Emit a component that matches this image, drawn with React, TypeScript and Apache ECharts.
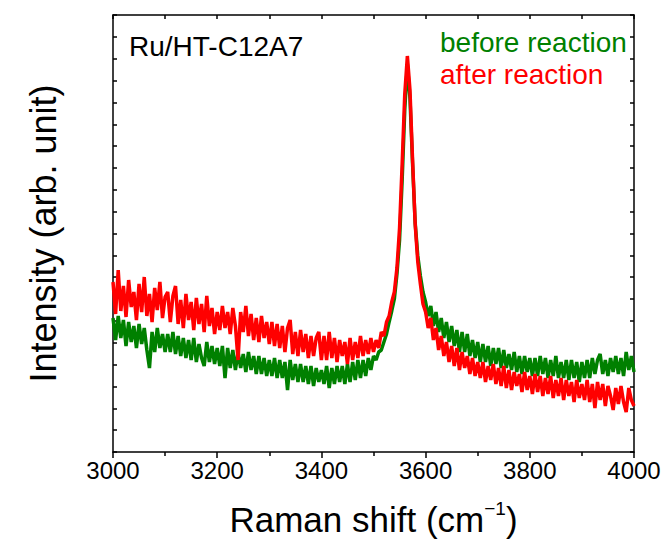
import React, { useEffect, useRef } from "react";
import * as echarts from "echarts";

// Raman shift grid (cm^-1): first point and spacing of the sampled spectra
const X_START = 3000;
const X_STEP = 5;

// Intensity (arb. unit), one value every 5 cm^-1 from 3000 to 4000
const beforeReaction = [
  134, 112, 136, 114, 132, 106, 130, 110, 126, 104, 128, 108, 124, 102, 84, 120, 100, 124, 104, 118, 100,
  118, 100, 120, 98, 116, 96, 114, 94, 112, 92, 114, 90, 108, 94, 86, 110, 90, 106, 88, 104,
  86, 106, 74, 104, 84, 102, 82, 100, 84, 98, 80, 100, 82, 96, 78, 96, 78, 94, 76, 92,
  76, 94, 74, 92, 74, 90, 62, 92, 72, 88, 70, 88, 70, 86, 68, 86, 66, 84, 70, 82,
  68, 86, 64, 84, 68, 86, 70, 86, 68, 88, 70, 90, 72, 92, 74, 92, 76, 94, 82, 96,
  92, 100, 102, 110, 118, 130, 141, 153, 178, 212, 272, 342, 388, 354, 288, 229, 196, 176, 160, 150,
  136, 146, 126, 140, 120, 134, 114, 130, 110, 126, 106, 122, 100, 120, 100, 118, 96, 112, 94, 110,
  90, 108, 90, 106, 86, 104, 88, 104, 84, 102, 84, 98, 82, 100, 80, 96, 78, 96, 80, 94,
  76, 94, 76, 96, 78, 94, 74, 92, 76, 96, 74, 90, 74, 92, 72, 92, 74, 90, 70, 90,
  74, 92, 74, 94, 78, 92, 98, 78, 92, 76, 94, 80, 96, 78, 94, 76, 100, 82, 96, 80,
];

const afterReaction = [
  170, 138, 182, 141, 166, 135, 172, 145, 160, 132, 168, 140, 175, 136, 158, 130, 164, 142, 170, 134, 155,
  160, 130, 156, 166, 128, 152, 124, 158, 132, 150, 122, 154, 128, 148, 120, 156, 126, 144, 118, 140,
  122, 146, 124, 140, 118, 144, 126, 92, 140, 120, 146, 116, 138, 112, 134, 110, 136, 114, 130, 108,
  130, 106, 128, 104, 126, 100, 124, 132, 98, 120, 96, 122, 100, 118, 94, 116, 96, 114, 120, 92,
  116, 92, 120, 94, 114, 90, 112, 96, 110, 88, 114, 92, 110, 94, 116, 96, 112, 98, 114, 100,
  112, 104, 120, 116, 130, 136, 150, 160, 184, 224, 288, 358, 396, 362, 292, 228, 190, 168, 148, 140,
  124, 134, 112, 124, 102, 116, 96, 110, 90, 106, 86, 104, 82, 100, 84, 96, 78, 94, 76, 90,
  74, 90, 70, 86, 72, 88, 68, 84, 66, 86, 64, 82, 62, 80, 66, 78, 60, 80, 62, 76,
  58, 78, 60, 76, 56, 74, 58, 76, 54, 72, 56, 74, 52, 72, 56, 70, 50, 72, 54, 68,
  52, 72, 50, 68, 44, 70, 52, 68, 46, 66, 56, 42, 64, 48, 66, 50, 40, 64, 52, 46,
];

const seriesNames = ["before reaction", "after reaction"];
const seriesColors = ["#008000", "#ff0000"];
const sampleLabel = "Ru/HT-C12A7";

// axis extents
const X_MIN = 3000;
const X_MAX = 4000;
const X_INTERVAL = 200;
const Y_MIN = 0;
const Y_MAX = 437;
const Y_INTERVAL = 21.85;

const FONT = "'Liberation Sans', Arial, Helvetica, sans-serif";

export default function App() {
  const ref = useRef<HTMLDivElement>(null);

  useEffect(() => {
    if (!ref.current) return;
    const chart = echarts.init(ref.current, null, { renderer: "svg" });
    const toPairs = (arr: number[]) => arr.map((v, i) => [X_START + X_STEP * i, v]);

    const axisLineStyle = { color: "#000", width: 1.5 };

    chart.setOption({
      animation: false,
      backgroundColor: "#fff",
      grid: { left: 113, right: 36, top: 15, bottom: 100, containLabel: false },
      legend: {
        data: [
          { name: seriesNames[0], textStyle: { color: seriesColors[0] } },
          { name: seriesNames[1], textStyle: { color: seriesColors[1] } },
        ],
        orient: "vertical",
        left: 435,
        top: 28,
        padding: 0,
        icon: "none",
        itemWidth: 0,
        itemHeight: 14,
        itemGap: 4,
        selectedMode: false,
        textStyle: { fontSize: 28, fontFamily: FONT, padding: 0 },
      },
      xAxis: [
        {
          type: "value",
          position: "bottom",
          min: X_MIN,
          max: X_MAX,
          interval: X_INTERVAL,
          axisLine: { show: true, onZero: false, lineStyle: axisLineStyle },
          axisTick: { show: true, inside: false, length: 6, lineStyle: axisLineStyle },
          minorTick: { show: true, splitNumber: 2, length: 4, lineStyle: axisLineStyle },
          splitLine: { show: false },
          axisLabel: {
            fontSize: 24,
            color: "#000",
            fontFamily: FONT,
            margin: 6,
            formatter: (v: number) => String(v),
          },
          name: "Raman shift (cm{sup|−1})",
          nameLocation: "middle",
          nameGap: 47,
          nameTextStyle: {
            fontSize: 35,
            color: "#000",
            fontFamily: FONT,
            lineHeight: 40,
            rich: {
              sup: { fontSize: 19, fontFamily: FONT, color: "#000", verticalAlign: "top", lineHeight: 22 },
            },
          },
        },
        {
          type: "value",
          position: "top",
          min: X_MIN,
          max: X_MAX,
          interval: X_INTERVAL,
          axisLine: { show: true, onZero: false, lineStyle: axisLineStyle },
          axisTick: { show: true, inside: true, length: 4, lineStyle: axisLineStyle },
          minorTick: { show: true, splitNumber: 2, length: 4, lineStyle: axisLineStyle },
          splitLine: { show: false },
          axisLabel: { show: false },
        },
      ],
      yAxis: [
        {
          type: "value",
          position: "left",
          min: Y_MIN,
          max: Y_MAX,
          interval: Y_INTERVAL,
          axisLine: { show: true, onZero: false, lineStyle: axisLineStyle },
          axisTick: { show: true, inside: true, length: 4, lineStyle: axisLineStyle },
          splitLine: { show: false },
          axisLabel: { show: false },
          name: "Intensity (arb. unit)",
          nameLocation: "middle",
          nameGap: 52,
          nameTextStyle: { fontSize: 36, color: "#000", fontFamily: FONT },
        },
        {
          type: "value",
          position: "right",
          min: Y_MIN,
          max: Y_MAX,
          interval: Y_INTERVAL,
          axisLine: { show: true, onZero: false, lineStyle: axisLineStyle },
          axisTick: { show: true, inside: true, length: 4, lineStyle: axisLineStyle },
          splitLine: { show: false },
          axisLabel: { show: false },
        },
      ],
      graphic: [
        {
          type: "text",
          left: 129,
          top: 32,
          style: { text: sampleLabel, fontSize: 28, fontFamily: FONT, fill: "#000" },
        },
      ],
      series: [
        {
          name: seriesNames[0],
          type: "line",
          data: toPairs(beforeReaction),
          showSymbol: false,
          symbol: "none",
          lineStyle: { color: seriesColors[0], width: 3.5 },
          itemStyle: { color: seriesColors[0] },
          xAxisIndex: 0,
          yAxisIndex: 0,
        },
        {
          name: seriesNames[1],
          type: "line",
          data: toPairs(afterReaction),
          showSymbol: false,
          symbol: "none",
          lineStyle: { color: seriesColors[1], width: 3.5 },
          itemStyle: { color: seriesColors[1] },
          xAxisIndex: 0,
          yAxisIndex: 0,
        },
      ],
    });

    return () => chart.dispose();
  }, []);

  return (
    <div
      ref={ref}
      style={{ position: "fixed", left: 0, top: 0, width: 670, height: 552, background: "#fff" }}
    />
  );
}
